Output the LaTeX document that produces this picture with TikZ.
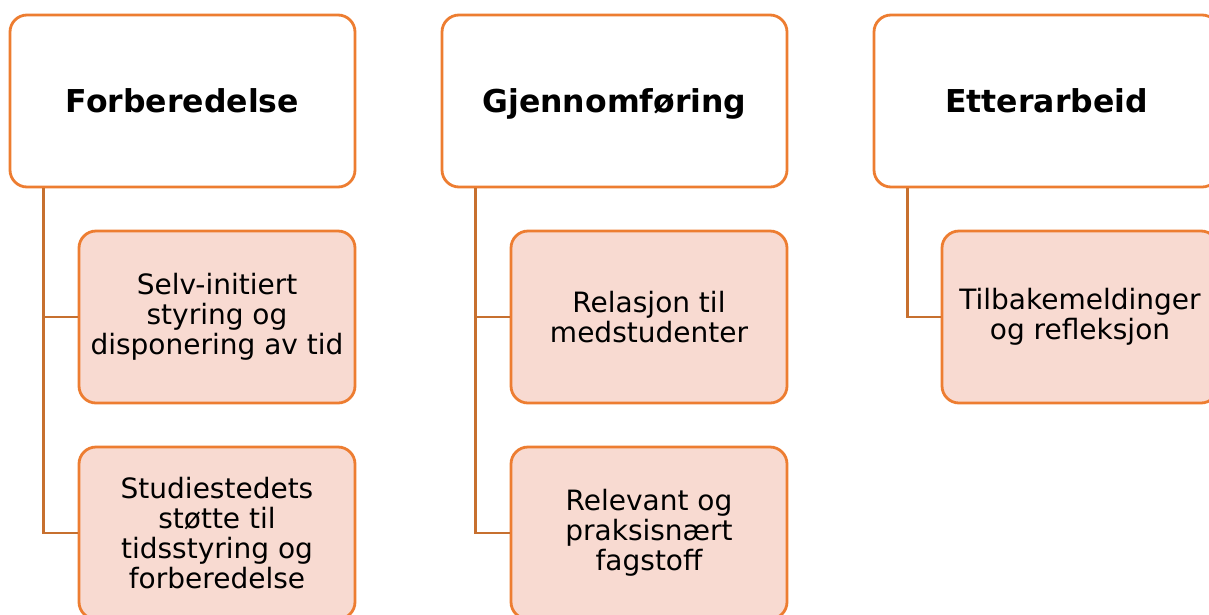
\documentclass[tikz,border=0pt]{standalone}
\usepackage{fontspec}
\setmainfont{DejaVu Sans}
\definecolor{bord}{HTML}{ED7D31}
\definecolor{fillc}{HTML}{F8DAD1}
\definecolor{conn}{HTML}{C7702F}
\tikzset{
  head/.style={draw=bord, line width=2.8pt, fill=white, rounded corners=17pt,
    minimum width=345pt, minimum height=172pt, font=\fontsize{31.5}{36}\selectfont\bfseries,
    inner sep=0pt, text height=23pt, text depth=0pt},
  sub/.style={draw=bord, line width=2.8pt, fill=fillc, rounded corners=17pt,
    minimum width=276pt, minimum height=172pt, font=\fontsize{28}{30}\selectfont, align=center, inner sep=0pt},
  link/.style={draw=conn, line width=2.8pt}
}
\begin{document}
\begin{tikzpicture}[x=1pt,y=-1pt]
\useasboundingbox (0,0) rectangle (1209,614);
\clip (0,0) rectangle (1209,614);
% headers
\node[head] (h1) at (182.5,101) {Forberedelse};
\node[head] (h2) at (614.5,101) {Gjennomføring};
\node[head] (h3) at (1046.5,101) {Etterarbeid};
% connectors
\coordinate (v1) at ([xshift=35pt]h1.south west);
\coordinate (v2) at ([xshift=35pt]h2.south west);
\coordinate (v3) at ([xshift=35pt]h3.south west);
% sub boxes
\node[sub] (a1) at (217,317) {Selv-initiert\\styring og\\disponering av tid};
\node[sub] (a2) at (217,533) {Studiestedets\\støtte til\\tidsstyring og\\forberedelse};
\node[sub] (b1) at (649,317) {Relasjon til\\medstudenter};
\node[sub] (b2) at (649,533) {Relevant og\\praksisnært\\fagstoff};
\node[sub] (c1) at (1080,317) {Tilbakemeldinger\\og refleksjon};
\draw[link] (v1) |- (a1.west);
\draw[link] (v1) |- (a2.west);
\draw[link] (v2) |- (b1.west);
\draw[link] (v2) |- (b2.west);
\draw[link] (v3) |- (c1.west);
\end{tikzpicture}
\end{document}
